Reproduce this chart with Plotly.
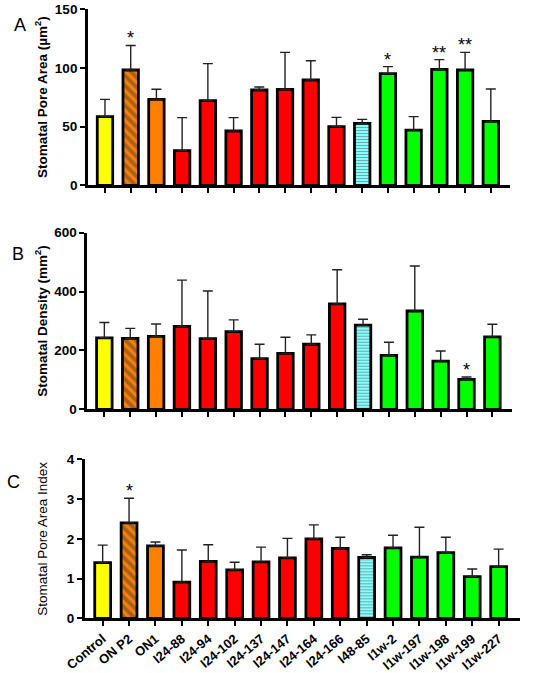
import plotly.graph_objects as go

# categories on the x axis
lines = ["Control", "ON P2", "ON1", "I24-88", "I24-94", "I24-102", "I24-137",
         "I24-147", "I24-164", "I24-166", "I48-85", "I1w-2", "I1w-197",
         "I1w-198", "I1w-199", "I1w-227"]

# A - stomatal pore area (um2), mean and upper error
pore_area = [58.4, 98.1, 73.1, 29.5, 72.0, 46.2, 81.1, 81.7, 89.6, 49.9,
             52.7, 95.0, 47.0, 98.7, 98.1, 54.4]
pore_area_err = [14.7, 20.9, 8.6, 28.1, 31.5, 11.4, 2.5, 31.4, 16.4, 7.9,
                 3.4, 6.0, 11.4, 8.2, 15.0, 27.5]
pore_area_sig = ["", "*", "", "", "", "", "", "", "", "", "", "*", "", "**", "**", ""]

# B - stomatal density (mm2)
density = [243, 241, 248, 282, 240, 264, 172, 190, 221, 358,
           286, 183, 334, 164, 102, 246]
density_err = [52, 34, 42, 157, 162, 40, 49, 55, 32, 116,
               20, 45, 153, 34, 8, 43]
density_sig = ["", "", "", "", "", "", "", "", "", "", "", "", "", "", "*", ""]

# C - stomatal pore area index
index = [1.40, 2.40, 1.82, 0.91, 1.43, 1.22, 1.42, 1.52, 2.00, 1.76,
         1.53, 1.77, 1.54, 1.65, 1.05, 1.30]
index_err = [0.44, 0.62, 0.10, 0.81, 0.42, 0.19, 0.37, 0.49, 0.35, 0.28,
             0.07, 0.32, 0.75, 0.39, 0.19, 0.44]
index_sig = ["", "*", "", "", "", "", "", "", "", "", "", "", "", "", "", ""]

colors = ["#FFFF00", "#FF8000", "#FF8000"] + ["#FF0000"] * 7 + ["#88FFFF"] + ["#00FF00"] * 5
shapes = ["", "\\", ""] + [""] * 7 + ["-"] + [""] * 5
fgcolors = ["black", "black", "black"] + ["black"] * 7 + ["white"] + ["black"] * 5
psizes = [7, 7, 7] + [7] * 7 + [3] + [7] * 5
psolid = [0.55, 0.55, 0.55] + [0.55] * 7 + [0.3] + [0.55] * 5

font = "Liberation Sans, Arial, sans-serif"

panels = [
    ("", pore_area, pore_area_err, pore_area_sig),
    ("2", density, density_err, density_sig),
    ("3", index, index_err, index_sig),
]

fig = go.Figure()
annotations = []
for ax, vals, errs, sig in panels:
    fig.add_trace(go.Bar(
        x=lines, y=vals, xaxis="x" + ax, yaxis="y" + ax, width=0.6,
        marker=dict(color=colors, line=dict(color="black", width=2.8),
                    pattern=dict(shape=shapes, fgcolor=fgcolors, size=psizes,
                                 solidity=psolid)),
        error_y=dict(type="data", array=errs, arrayminus=[0] * len(errs),
                     symmetric=False, color="#222222", thickness=1.4, width=5),
        showlegend=False))
    for name, v, e, s in zip(lines, vals, errs, sig):
        if s:
            annotations.append(dict(x=name, y=v + e, xref="x" + ax, yref="y" + ax,
                                    text=s, showarrow=False, yanchor="bottom",
                                    yshift=-5, font=dict(size=18, color="black",
                                                         family=font)))

# panel letters
for lbl, xx, yy in [("A", 0.036, 0.963), ("B", 0.033, 0.622), ("C", 0.025, 0.284)]:
    annotations.append(dict(x=xx, y=yy, xref="paper", yref="paper", text=lbl,
                            xanchor="center", yanchor="middle", showarrow=False,
                            font=dict(size=18, color="black", family=font)))

axis_common = dict(showline=True, linecolor="black", linewidth=2.8, ticks="outside",
                   tickcolor="black", tickwidth=2.4, ticklen=5, showgrid=False,
                   zeroline=False, automargin=False)
ytick = dict(size=13.5, color="black", family=font, weight="bold")

fig.update_layout(
    width=550, height=673, margin=dict(l=0, r=0, t=0, b=0),
    plot_bgcolor="white", paper_bgcolor="white",
    annotations=annotations,
    xaxis=dict(domain=[0.16, 0.927], range=[-0.66, 15.74], showticklabels=False,
               anchor="y", **axis_common),
    xaxis2=dict(domain=[0.1587, 0.931], range=[-0.66, 15.76], showticklabels=False,
                anchor="y2", **axis_common),
    xaxis3=dict(domain=[0.1545, 0.945], range=[-0.67, 15.8], tickangle=-40,
                anchor="y3", tickfont=dict(size=13, color="black", family=font,
                                           weight="bold"), **axis_common),
    yaxis=dict(domain=[0.7247, 0.9866], range=[0, 150], tickvals=[0, 50, 100, 150],
               anchor="x", tickfont=ytick,
               title=dict(text="Stomatal Pore Area (µm<sup>2</sup>)", standoff=5,
                          font=dict(size=13.5, color="black", family=font,
                                    weight="bold")), **axis_common),
    yaxis2=dict(domain=[0.3918, 0.6542], range=[0, 600], tickvals=[0, 200, 400, 600],
                anchor="x2", tickfont=ytick,
                title=dict(text="Stomatal Density (mm<sup>2</sup>)", standoff=4,
                           font=dict(size=13.5, color="black", family=font,
                                     weight="bold")), **axis_common),
    yaxis3=dict(domain=[0.0813, 0.3175], range=[0, 4], tickvals=[0, 1, 2, 3, 4],
                anchor="x3", tickfont=ytick,
                title=dict(text="Stomatal Pore Area Index", standoff=17,
                           font=dict(size=13.5, color="black", family=font)),
                **axis_common),
)

# drop the page's default 8px body margin so the figure sits at the corner
fig.write_html("out.html", config={"displayModeBar": False},
               post_script="document.body.style.margin='0';")
